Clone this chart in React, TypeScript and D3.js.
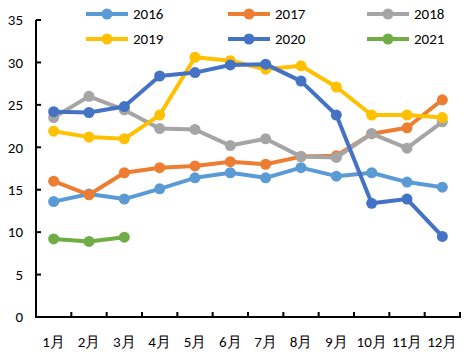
import React from "react";
import * as d3 from "d3";

const months = ["1月","2月","3月","4月","5月","6月","7月","8月","9月","10月","11月","12月"];
const yTicks = [0,5,10,15,20,25,30,35];
const seriesNames = ["2016","2017","2018","2019","2020","2021"];
const seriesColors = ["#5B9BD5","#ED7D31","#A5A5A5","#FFC000","#4472C4","#70AD47"];
const v2016 = [13.6,14.5,13.9,15.1,16.4,17.0,16.4,17.6,16.6,17.0,15.9,15.3];
const v2017 = [16.0,14.4,17.0,17.6,17.8,18.3,18.0,18.9,19.0,21.6,22.3,25.6];
const v2018 = [23.5,26.0,24.4,22.2,22.1,20.2,21.0,18.9,18.8,21.6,19.9,23.0];
const v2019 = [21.9,21.2,21.0,23.8,30.6,30.2,29.2,29.6,27.1,23.8,23.8,23.5];
const v2020 = [24.2,24.1,24.8,28.4,28.8,29.7,29.8,27.8,23.8,13.4,13.9,9.5];
const v2021 = [9.2,8.9,9.4];
const allValues = [v2016,v2017,v2018,v2019,v2020,v2021];

export default function App() {
  const W = 473, H = 355;
  const left = 36, right = 460, top = 20, bottom = 317;
  const x = d3.scaleBand<string>().domain(months).range([left, right]);
  const y = d3.scaleLinear().domain([0, 35]).range([bottom, top]);
  const font = "Calibri, 'Liberation Sans', Arial, sans-serif";
  const line = d3.line<number>()
    .x((_, i) => (x(months[i]) as number) + x.bandwidth() / 2)
    .y((d) => y(d));
  const legendX = [86, 228, 367];
  const legendY = [14, 39];
  return (
    <svg width={W} height={H} style={{ position: "absolute", left: 0, top: 0, background: "#fff" }} fontFamily={font}>
      {allValues.map((vals, si) => (
        <g key={si}>
          <path d={line(vals) || ""} fill="none" stroke={seriesColors[si]} strokeWidth={4} strokeLinejoin="round" />
          {vals.map((v, i) => (
            <circle key={i} cx={(x(months[i]) as number) + x.bandwidth() / 2} cy={y(v)} r={5.5} fill={seriesColors[si]} />
          ))}
        </g>
      ))}
      <line x1={left} x2={left} y1={top} y2={bottom} stroke="#000" strokeWidth={2} />
      <line x1={left - 1} x2={right + 1} y1={bottom} y2={bottom} stroke="#000" strokeWidth={2} />
      {yTicks.map((t) => (
        <g key={t}>
          <line x1={left} x2={left + 5} y1={y(t)} y2={y(t)} stroke="#000" strokeWidth={2} />
          <text x={23} y={y(t)} dy="0.35em" textAnchor="end" fontSize={15} fill="#000">{t}</text>
        </g>
      ))}
      {months.map((m, i) => (
        <g key={m}>
          <line x1={(x(m) as number) + x.bandwidth()} x2={(x(m) as number) + x.bandwidth()} y1={bottom} y2={bottom - 5} stroke="#000" strokeWidth={2} />
          <text x={(x(m) as number) + x.bandwidth() / 2} y={342} dy="0.35em" textAnchor="middle" fontSize={15} fill="#000">{m}</text>
        </g>
      ))}
      {seriesNames.map((n, i) => {
        const lx = legendX[i % 3], ly = legendY[Math.floor(i / 3)];
        return (
          <g key={n}>
            <line x1={lx} x2={lx + 42} y1={ly} y2={ly} stroke={seriesColors[i]} strokeWidth={4} />
            <circle cx={lx + 21} cy={ly} r={5.5} fill={seriesColors[i]} />
            <text x={lx + 47} y={ly} dy="0.35em" fontSize={15} fill="#000">{n}</text>
          </g>
        );
      })}
    </svg>
  );
}
